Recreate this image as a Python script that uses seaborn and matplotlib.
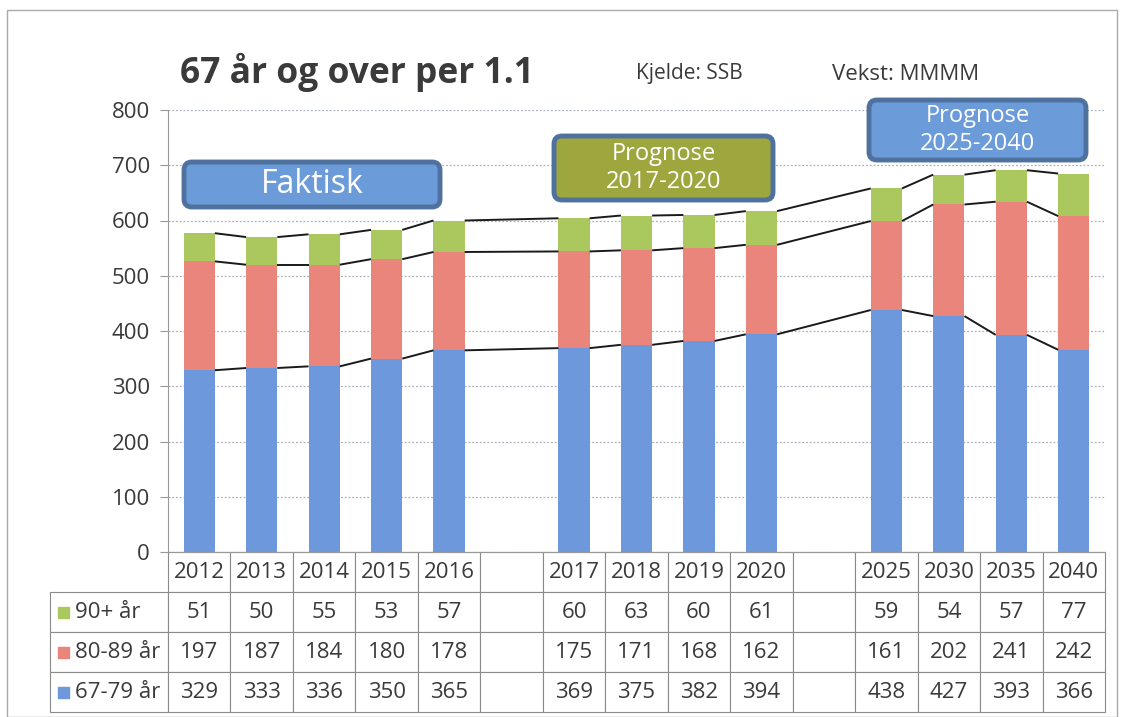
import numpy as np
import pandas as pd
import seaborn as sns
import matplotlib.pyplot as plt
from matplotlib.patches import FancyBboxPatch, Rectangle
from matplotlib.transforms import IdentityTransform

years = ['2012', '2013', '2014', '2015', '2016', '2017', '2018', '2019', '2020',
         '2025', '2030', '2035', '2040']
slots = ['2012', '2013', '2014', '2015', '2016', 'gap1', '2017', '2018', '2019', '2020',
         'gap2', '2025', '2030', '2035', '2040']
age_90 = [51, 50, 55, 53, 57, 60, 63, 60, 61, 59, 54, 57, 77]
age_80 = [197, 187, 184, 180, 178, 175, 171, 168, 162, 161, 202, 241, 242]
age_67 = [329, 333, 336, 350, 365, 369, 375, 382, 394, 438, 427, 393, 366]
labels = ['90+ år', '80-89 år', '67-79 år']

c_blue = '#6d98dc'
c_red = '#e9857a'
c_green = '#abc85f'
txt = '#3a3a3a'

df = pd.DataFrame({'year': years, 'a67': age_67, 'a80': age_80, 'a90': age_90})
df['lvl1'] = df['a67']
df['lvl2'] = df['a67'] + df['a80']
df['lvl3'] = df['lvl2'] + df['a90']

sns.set_style('white')
plt.rcParams['font.family'] = ['Open Sans', 'DejaVu Sans']

fig = plt.figure(figsize=(11.21, 7.17), dpi=100)
ax = fig.add_axes([168 / 1121, 1 - 552 / 717, 937 / 1121, 442 / 717])

bw = 0.5
for col, c in [('lvl3', c_green), ('lvl2', c_red), ('lvl1', c_blue)]:
    sns.barplot(data=df, x='year', y=col, order=slots, color=c, width=bw,
                saturation=1, ax=ax, linewidth=0, zorder=3)

# series lines between bar tops
pos = [slots.index(y) for y in years]
for col in ['lvl1', 'lvl2', 'lvl3']:
    v = df[col].tolist()
    for i in range(len(years) - 1):
        ax.plot([pos[i] + bw / 2, pos[i + 1] - bw / 2], [v[i], v[i + 1]],
                color='#1a1a1a', lw=1.4, zorder=4, solid_capstyle='butt')

ax.set_xlim(-0.5, len(slots) - 0.5)
ax.set_ylim(0, 800)
ax.set_yticks(range(0, 801, 100))
ax.yaxis.grid(True, ls=(0, (1.5, 1.5)), color='#aab0bb', lw=0.9, zorder=0)
ax.set_xticks([])
ax.set_xlabel('')
ax.set_ylabel('')
ax.tick_params(axis='y', labelsize=16, labelcolor=txt, length=6, color='#999999',
               left=True, pad=7)
for s in ['top', 'right']:
    ax.spines[s].set_visible(False)
ax.spines['left'].set_color('#999999')
ax.spines['bottom'].set_color('#999999')

# data table, first column holds the series names
cell_text = []
for lab, vals in zip(labels, [age_90, age_80, age_67]):
    row = ['    ' + lab]
    it = iter(vals)
    for s in slots:
        row.append('' if s.startswith('gap') else str(next(it)))
    cell_text.append(row)
col_labels = [''] + ['' if s.startswith('gap') else s for s in slots]

tbl = ax.table(cellText=cell_text, colLabels=col_labels, cellLoc='center',
               colWidths=[118] + [62.5] * len(slots),
               bbox=[-118 / 937, -160 / 442, 1 + 118 / 937, 160 / 442])
tbl.auto_set_font_size(False)
for (r, c), cell in tbl.get_celld().items():
    cell.set_edgecolor('#8a8a8a')
    cell.set_linewidth(0.8)
    cell.get_text().set_fontsize(16)
    cell.get_text().set_color(txt)
    if c == 0:
        cell.get_text().set_ha('left')
        cell.PAD = 0.02
        if r == 0:
            cell.visible_edges = ''

# legend squares in row labels
for k, c in enumerate([c_green, c_red, c_blue]):
    yc = -(40 + 40 * k + 20) / 442
    ax.add_patch(Rectangle((-110 / 937, yc - 6 / 442), 11 / 937, 11 / 442,
                           transform=ax.transAxes, color=c, clip_on=False, zorder=5))

# titles
fig.text(180 / 1121, 1 - 72 / 717, '67 år og over per 1.1', fontsize=25.5,
         fontweight='bold', color=txt, va='center', ha='left')
fig.text(636 / 1121, 1 - 74 / 717, 'Kjelde: SSB', fontsize=15, color=txt,
         va='center', ha='left')
fig.text(832 / 1121, 1 - 74 / 717, 'Vekst: MMMM', fontsize=16, color=txt,
         va='center', ha='left')

# annotation boxes (pixel coordinates, y from top)
H = 717
def box(x0, y0, x1, y1, fc, text, fs):
    p = FancyBboxPatch((x0, H - y1), x1 - x0, y1 - y0,
                       boxstyle='round,pad=0,rounding_size=8',
                       transform=IdentityTransform(), fc=fc, ec='#4f719e', lw=3.5,
                       zorder=6)
    fig.add_artist(p)
    fig.text((x0 + x1) / 2 / 1121, 1 - (y0 + y1) / 2 / H, text, ha='center',
             va='center', color='white', fontsize=fs, linespacing=1.25, zorder=7)

box(184, 162, 440, 207, '#6c9bd9', 'Faktisk', 23)
box(554, 136, 773, 200, '#9ea63e', 'Prognose\n2017-2020', 17)
box(869, 100, 1086, 160, '#6c9bd9', 'Prognose\n2025-2040', 17)

# outer frame
fig.add_artist(Rectangle((7, 0), 1110, H - 10, transform=IdentityTransform(),
                         fill=False, ec='#aaaaaa', lw=1))

fig.savefig('out.png', dpi=100)
